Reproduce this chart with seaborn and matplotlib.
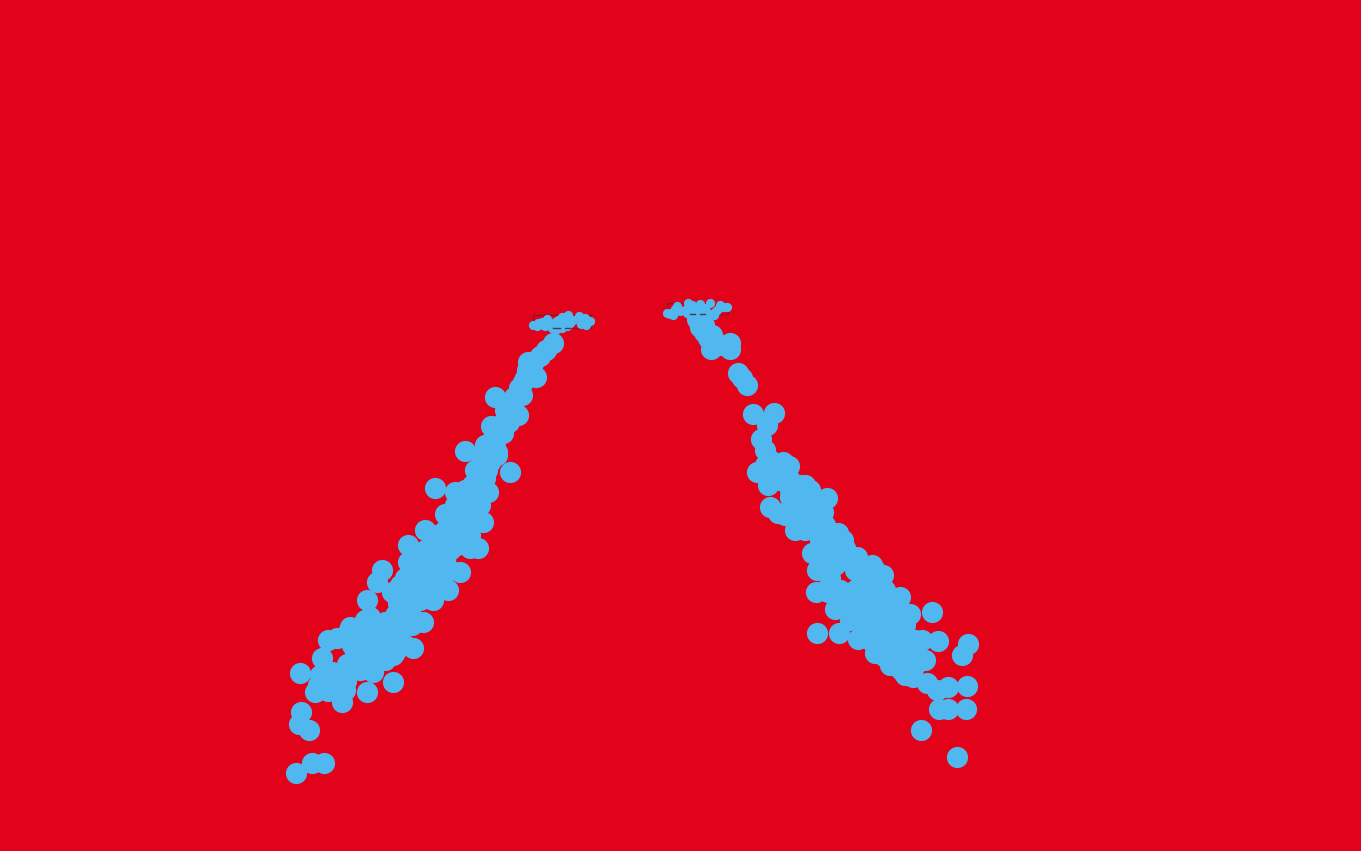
import matplotlib.pyplot as plt
import pandas as pd
import seaborn as sns
from matplotlib.patches import Rectangle

BG = "#E2031A"
BLUE = "#50B8EE"
DARK = "#8E1023"

left_x = [553, 546, 540, 533, 527, 536, 525, 519, 495, 514, 522, 512, 518, 509, 491, 503, 495, 465,
          480, 497, 510, 490, 475, 485, 435, 488, 472, 455, 465, 480, 445, 483, 460, 470, 450, 425,
          478, 470, 455, 440, 408, 425, 460, 445, 430, 408, 382, 420, 377, 448, 435, 420, 400, 433,
          367, 415, 398, 423, 405, 385, 365, 350, 413, 400, 380, 360, 337, 328, 395, 375, 355, 393,
          322, 347, 373, 360, 300, 332, 393, 325, 346, 367, 315, 328, 342, 301, 299, 309, 312, 324, 296,
          505, 500, 485, 485, 478, 465, 470, 455, 460, 445, 435, 450, 435, 420, 430, 415, 405, 410,
          392, 400, 410, 395, 385, 370, 400, 385, 365, 352, 320, 335, 345, 380, 348, 420, 440, 465,
          523, 528, 513, 507, 492, 497, 487, 478, 473, 470, 457, 450, 440, 425, 412, 405, 385, 365,
          335, 318, 370, 390]
left_y = [343, 350, 356, 363, 370, 377, 378, 388, 397, 397, 395, 405, 415, 422, 426, 433, 442, 451,
          455, 452, 472, 462, 470, 478, 488, 492, 485, 492, 500, 505, 514, 522, 515, 525, 527, 530,
          548, 548, 540, 545, 545, 550, 572, 560, 565, 562, 570, 575, 582, 590, 585, 590, 585, 600,
          600, 600, 603, 622, 615, 622, 620, 627, 648, 632, 637, 637, 638, 640, 652, 652, 652, 655,
          658, 664, 672, 670, 673, 672, 682, 685, 681, 692, 692, 691, 702, 712, 724, 730, 763, 763, 773,
          410, 425, 445, 465, 480, 490, 510, 505, 525, 530, 535, 550, 555, 560, 575, 580, 578, 590,
          592, 595, 610, 615, 630, 630, 640, 645, 645, 645, 675, 680, 690, 660, 632, 600, 575, 535,
          382, 362, 405, 420, 440, 455, 470, 500, 517, 535, 545, 570, 578, 595, 625, 645, 660, 660,
          690, 685, 617, 632]

right_x = [700, 704, 708, 714, 711, 720, 730, 730, 738, 742, 747, 753, 774, 767, 761, 765, 770, 757,
           768, 783, 789, 775, 790, 800, 810, 827, 770, 778, 795, 800, 815, 823, 810, 838, 843, 825,
           812, 830, 857, 817, 828, 872, 883, 816, 860, 870, 835, 850, 900, 880, 870, 910, 895, 875,
           860, 932, 817, 839, 858, 938, 922, 905, 890, 875, 885, 920, 905, 968, 962, 901, 913, 927,
           937, 948, 967, 966, 948, 939, 921, 957,
           697, 704, 712, 722, 765, 780, 790, 800, 812, 810, 785, 805, 815, 825, 820, 830, 825, 835,
           830, 825, 840, 855, 855, 868, 845, 860, 875, 885, 850, 865, 880, 895, 870, 885, 900, 905,
           890, 915, 880, 895, 855, 800, 845, 870, 890,
           775, 790, 805, 835, 845, 860, 875, 885, 895, 905, 915, 925, 915, 905, 845, 860, 870, 880]
right_y = [327, 332, 338, 340, 349, 345, 343, 349, 373, 378, 385, 414, 413, 425, 439, 450, 460, 472,
           485, 462, 466, 472, 480, 485, 490, 498, 507, 513, 530, 510, 505, 512, 520, 533, 540, 545,
           553, 553, 557, 570, 592, 565, 575, 592, 585, 590, 609, 605, 597, 585, 612, 614, 620, 625,
           622, 612, 633, 633, 639, 641, 640, 638, 635, 653, 657, 658, 655, 644, 655, 670, 677, 683,
           690, 687, 686, 709, 709, 709, 730, 757,
           319, 325, 335, 345, 465, 480, 497, 495, 500, 510, 515, 530, 530, 525, 540, 540, 560, 565,
           578, 590, 590, 590, 570, 578, 560, 600, 605, 615, 620, 625, 630, 635, 640, 645, 650, 665,
           665, 665, 650, 660, 610, 520, 550, 600, 605,
           465, 490, 485, 545, 548, 570, 570, 590, 607, 625, 640, 660, 650, 675, 600, 615, 595, 600]

small_left_x = [533, 538, 543, 542, 547, 553, 558, 562, 568, 570, 565, 579, 582, 587, 590, 585,
                550, 555, 560, 563, 558, 537, 566, 552, 557, 562, 567, 581, 586, 573, 545]
small_left_y = [325, 323, 325, 322, 319, 325, 320, 317, 315, 323, 323, 316, 320, 323, 321, 318,
                323, 322, 325, 323, 327, 326, 319, 328, 329, 328, 326, 324, 325, 320, 326]
small_right_x = [667, 673, 677, 670, 687, 688, 693, 700, 703, 710, 717, 723, 727, 720, 715,
                 690, 695, 698, 705, 685, 697, 675, 692, 673, 680, 708, 714, 699, 690]
small_right_y = [313, 312, 306, 314, 313, 303, 308, 304, 310, 303, 310, 307, 307, 305, 312,
                 310, 312, 310, 308, 310, 313, 309, 305, 315, 311, 313, 315, 315, 315]

# boxes behind the small clusters: left, top, right, bottom
box_left = [533, 667]
box_right = [591, 728]
box_top = [315, 303]
box_bottom = [328, 314]
dash_x0 = [553, 565, 690, 700]
dash_x1 = [560, 570, 695, 705]
dash_y = [328, 328, 314, 314]

big = pd.DataFrame({"x": left_x + right_x, "y": left_y + right_y})
small = pd.DataFrame({"x": small_left_x + small_right_x, "y": small_left_y + small_right_y})

fig, ax = plt.subplots(figsize=(13.61, 8.51), dpi=100, facecolor=BG)
ax.set_position([0, 0, 1, 1])
ax.set_facecolor(BG)

for x0, x1, y0, y1 in zip(box_left, box_right, box_top, box_bottom):
    ax.add_patch(Rectangle((x0, y0), x1 - x0, y1 - y0, fill=False, edgecolor=DARK, lw=1, zorder=1))

sns.scatterplot(data=big, x="x", y="y", s=232, color=BLUE, linewidth=0, ax=ax, zorder=2)
sns.scatterplot(data=small, x="x", y="y", s=44, color=BLUE, linewidth=0, ax=ax, zorder=3)

for x0, x1, y in zip(dash_x0, dash_x1, dash_y):
    ax.plot([x0, x1], [y, y], color="#4A3A55", lw=1, zorder=4)

ax.set_xlim(0, 1361)
ax.set_ylim(851, 0)
ax.axis("off")

fig.savefig("out.png", dpi=100, facecolor=BG)
plt.close(fig)
